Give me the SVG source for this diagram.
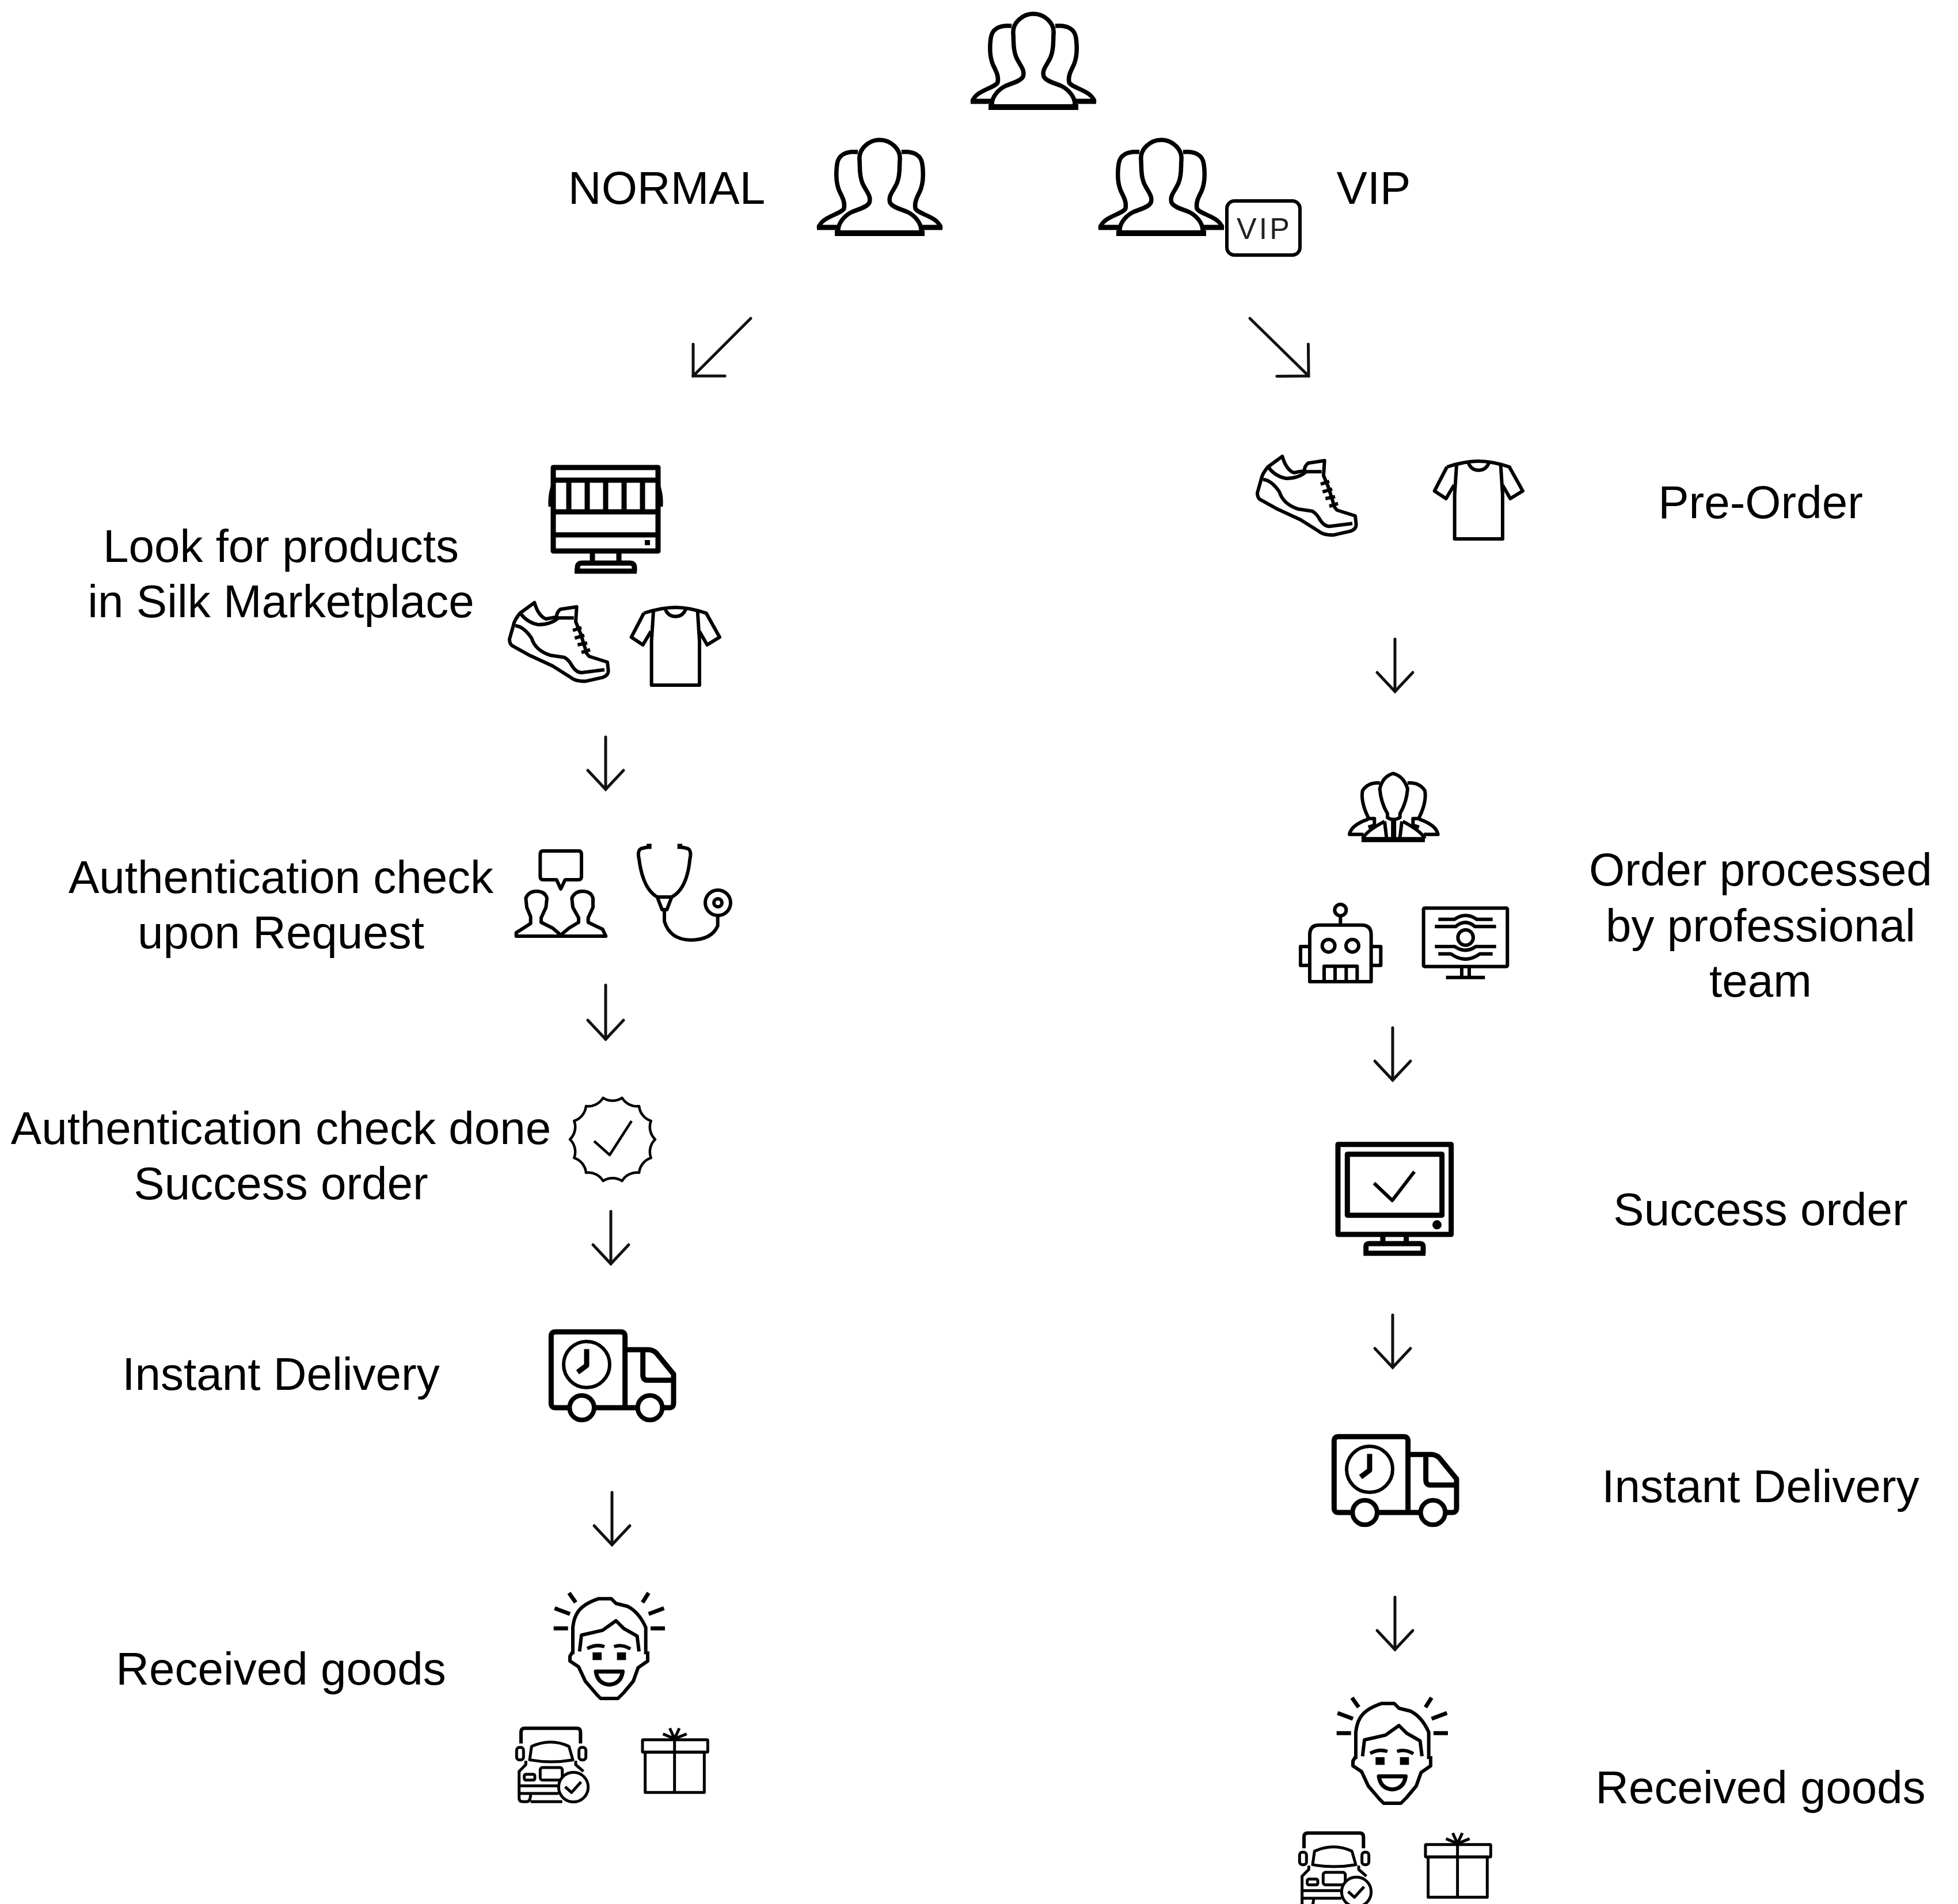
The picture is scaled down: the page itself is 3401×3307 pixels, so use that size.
<svg xmlns="http://www.w3.org/2000/svg" xmlns:xlink="http://www.w3.org/1999/xlink" width="3401" height="3307" viewBox="0 0 3401 3307">
<style>
text{font-family:"Liberation Sans",Arial,sans-serif;font-size:80px;fill:#000;text-anchor:middle}
.vip{font-size:52px;letter-spacing:4px;fill:#222}
.i *{fill:none;stroke:#000;stroke-width:6;stroke-linejoin:round;stroke-linecap:butt;vector-effect:non-scaling-stroke}
.i .t{stroke-width:9}
.i .n{stroke-width:4.500}
.i .w{fill:#fff}
.i .f{fill:#000;stroke:none}
.i .p{stroke-width:7.500}
.c line,.c path{fill:none;stroke:#111;stroke-width:5;stroke-linecap:round}
</style>
<defs>
<marker id="ah" markerUnits="userSpaceOnUse" markerWidth="90" markerHeight="90" viewBox="-45 -45 90 90" refX="0" refY="0" orient="auto"><path d="M-33,-31L0,0L-33,31" fill="none" stroke="#111" stroke-width="5" stroke-linecap="round" stroke-linejoin="miter"/></marker>
<marker id="ad" markerUnits="userSpaceOnUse" markerWidth="110" markerHeight="110" viewBox="-55 -55 110 110" refX="0" refY="0" orient="auto"><path d="M-39,-39L0,0L-39,39" fill="none" stroke="#111" stroke-width="5" stroke-linecap="round"/></marker>
<g id="people" class="i">
<path class="w p" d="M72,24C50,22 38,30 36,45C34,60 34,78 40,92C46,104 50,112 48,122C44,132 8,136 4,156"/>
<path class="w p" d="M148,24C170,22 182,30 184,45C186,60 186,78 180,92C174,104 170,112 172,122C176,132 212,136 216,156"/>
<path class="t" d="M1,155H38M182,155H219"/>
<path class="w p" d="M38,160C38,146 50,134 62,128C74,123 88,120 92,112C96,100 86,92 80,78C74,64 76,50 75,38C73,18 92,3 110,3C128,3 147,18 145,38C144,50 146,64 140,78C134,92 124,100 128,112C132,120 146,123 158,128C170,134 182,146 182,160"/>
<path class="t" style="stroke-width:10" d="M32,165H188"/>
</g>
<g id="shoe" class="i" transform="translate(860,780) scale(.33333)">
<path d="M205,800L130,855Q100,890 95,920L75,990Q75,1015 90,1025L180,1075L300,1130L395,1190Q415,1210 470,1210L560,1190Q590,1180 590,1155L585,1110L490,1080Q470,1060 470,1040L445,960L420,900L425,822L340,835Q320,850 320,875L265,885Q225,870 205,800Z"/>
<path d="M135,860Q170,905 225,915Q290,915 330,880L410,880"/>
<path d="M105,920Q150,925 190,985Q210,1050 290,1075L360,1085Q385,1100 395,1120Q420,1165 450,1165L570,1150"/>
<path d="M405,945L450,930M415,985L465,970M430,1020L480,1010M450,1060L495,1045"/>
</g>
<g id="shirt" class="i" transform="translate(860,780) scale(.33333)">
<path d="M825,845L815,1000V1230H1065V1000L1055,845"/>
<path d="M775,855Q870,825 940,825T1100,855L1170,980L1105,1020L1065,950M775,855L710,980L770,1020L812,950"/>
<path d="M885,830Q900,872 940,872T995,830"/>
</g>
<g id="truck" class="i" transform="translate(920,2280) scale(.33333)">
<path class="t" d="M200,495H135Q112,495 112,472V123Q112,100 135,100H474Q497,100 497,123V495"/>
<path class="t" d="M340,495H565M690,495H727Q750,495 750,472V320L660,210Q640,193 620,193H497"/>
<path class="t" d="M590,193V325Q590,352 615,352H750"/>
<circle cx="297" cy="270" r="120"/>
<path class="t" d="M297,190V275L250,310"/>
<circle class="w" cx="272" cy="495" r="64" style="stroke-width:8"/>
<circle class="w" cx="627" cy="495" r="64" style="stroke-width:8"/>
</g>
<g id="face" class="i" transform="translate(870,2740) scale(.33333)">
<path style="stroke-width:7" d="M355,80L390,130M280,160L360,190M275,265H350M770,80L738,130M850,160L770,190M855,265H780"/>
<path d="M375,400V260Q380,215 395,190Q420,140 510,110H575L600,135L660,150Q720,180 755,260V400"/>
<path d="M375,385L360,410V435L405,465L440,540L500,610L520,630H610L640,600L690,540L715,470L765,435V385"/>
<path d="M410,385L420,300L530,275L600,225L640,265L710,305L720,385"/>
<path d="M450,370Q495,345 540,360M590,360Q630,345 675,372"/>
<rect class="f" x="478" y="390" width="47" height="40"/>
<rect class="f" x="605" y="390" width="47" height="40"/>
<path style="stroke-width:7" d="M495,490H635Q625,555 565,558Q505,555 495,490Z"/>
</g>
<g id="car" class="i" transform="translate(870,2740) scale(.33333)">
<path d="M105,865V805Q105,785 125,785H395Q415,785 415,805V865"/>
<path style="stroke-width:5" d="M150,950L160,880Q260,835 355,880L375,950Q260,970 150,950Z"/>
<rect style="stroke-width:5" x="82" y="885" width="36" height="65" rx="15"/>
<rect style="stroke-width:5" x="407" y="885" width="36" height="65" rx="15"/>
<path style="stroke-width:5" d="M130,955V975L95,1010V1150Q95,1168 115,1168H135Q155,1168 155,1125M390,955V975L430,1010"/>
<rect style="stroke-width:5" x="122" y="1025" width="55" height="30" rx="8"/>
<rect style="stroke-width:5" x="205" y="990" width="115" height="65" rx="12"/>
<path style="stroke-width:5" d="M95,1085H300M95,1125H300M155,1168H320"/>
<circle class="w" style="stroke-width:5" cx="378" cy="1092" r="77"/>
<path style="stroke-width:5" d="M335,1090L368,1120L418,1065"/>
</g>
<g id="gift" class="i" transform="translate(870,2740) scale(.33333)">
<rect style="stroke-width:5" x="738" y="845" width="340" height="65" rx="4"/>
<rect style="stroke-width:5" x="752" y="910" width="308" height="210"/>
<path style="stroke-width:5" d="M905,845V1120"/>
<path style="stroke-width:5" d="M905,840L845,815M905,840L880,785M905,840L930,785M905,840L968,815"/>
</g>
</defs>
<rect width="3401" height="3307" fill="#fff"/>

<g id="connectors" class="c">
<line x1="1304" y1="553" x2="1204" y2="653" marker-end="url(#ad)"/>
<line x1="2171" y1="553" x2="2273" y2="653" marker-end="url(#ad)"/>
<line x1="1052" y1="1280" x2="1052" y2="1371" marker-end="url(#ah)"/>
<line x1="1052" y1="1711" x2="1052" y2="1805" marker-end="url(#ah)"/>
<line x1="1061" y1="2104" x2="1061" y2="2195" marker-end="url(#ah)"/>
<line x1="1063" y1="2592" x2="1063" y2="2683" marker-end="url(#ah)"/>
<line x1="2423" y1="1110" x2="2423" y2="1201" marker-end="url(#ah)"/>
<line x1="2419" y1="1785" x2="2419" y2="1876" marker-end="url(#ah)"/>
<line x1="2419" y1="2284" x2="2419" y2="2375" marker-end="url(#ah)"/>
<line x1="2423" y1="2774" x2="2423" y2="2865" marker-end="url(#ah)"/>
</g>

<g id="customers"><use href="#people" transform="translate(1685,21)"/></g>
<g id="normal"><text x="1158" y="354">NORMAL</text><use href="#people" transform="translate(1418,240)"/></g>
<g id="vip">
<text x="2386" y="354">VIP</text><use href="#people" transform="translate(1907,240)"/>
<g class="i"><rect class="w" x="2131" y="349" width="127" height="94" rx="13"/></g>
<text class="vip" x="2196" y="415">VIP</text>
</g>

<g id="normal-look">
<text x="488" y="976">Look for products</text><text x="488" y="1072">in Silk Marketplace</text>
<g class="i">
<path class="t" d="M961,889V812H1143V889M961,889V957H1143V889M961,834H1143M961,889H1143M961,929H1143M988,834V889M1020,834V889M1052,834V889M1084,834V889M1116,834V889"/>
<path class="n" d="M961,838Q953,860 955,880M1143,838Q1151,860 1149,880"/>
<rect class="f" x="1120" y="938" width="9" height="9"/>
<path class="t" d="M1029,957V978M1075,957V978M1003,992V986Q1003,978 1011,978H1094Q1102,978 1102,986V992"/>
<path class="t" d="M998,992H1106"/>
</g>
<use href="#shoe"/><use href="#shirt"/>
</g>

<g id="normal-auth">
<text x="488" y="1551">Authentication check</text><text x="488" y="1647">upon Request</text>
<g class="i" transform="translate(880,1440) scale(.33333,.4)">
<path d="M190,95H375Q390,95 390,110V205Q390,220 375,220H305L282,260L260,220H190Q175,220 175,205V110Q175,95 190,95Z"/>
<path d="M50,465V450L125,410V380L105,340L100,300Q115,270 155,270Q200,270 210,300L205,340L180,385V405L240,430L282,460L325,430L375,405V385L345,340L340,300Q355,270 395,270Q440,270 450,300L450,340L425,385V405L500,435L517,465Z"/>
<path d="M750,75L700,85Q680,95 690,130Q710,260 785,295H860Q940,260 955,130Q965,95 945,85L895,75"/>
<path d="M785,295L810,350H835L860,295"/>
<path d="M822,350V400Q850,480 960,482Q1070,480 1100,420V375"/>
<path class="t" d="M730,75H755M890,75H915"/>
</g>
<circle class="i" cx="1247" cy="1568" r="22" style="fill:none;stroke:#000;stroke-width:6"/>
<circle cx="1247" cy="1568" r="7" fill="none" stroke="#000" stroke-width="6"/>
</g>

<g id="normal-done">
<text x="488" y="1987">Authentication check done</text><text x="488" y="2083">Success order</text>
<g class="i" transform="translate(1064,1979)">
<path class="n" d="M74,0A30,30 0 0 0 66.700,32.100A30,30 0 0 0 46.100,57.800A30,30 0 0 0 16.500,72.100A30,30 0 0 0 -16.500,72.100A30,30 0 0 0 -46.100,57.800A30,30 0 0 0 -66.700,32.100A30,30 0 0 0 -74,0A30,30 0 0 0 -66.700,-32.100A30,30 0 0 0 -46.100,-57.800A30,30 0 0 0 -16.500,-72.100A30,30 0 0 0 16.500,-72.100A30,30 0 0 0 46.100,-57.800A30,30 0 0 0 66.700,-32.100A30,30 0 0 0 74,0Z"/>
<path class="n" d="M-32,3L-5,27L33,-32"/>
</g>
</g>

<g id="normal-delivery"><text x="488" y="2414">Instant Delivery</text><use href="#truck"/></g>
<g id="normal-received"><text x="488" y="2926">Received goods</text><use href="#face"/><use href="#car"/><use href="#gift"/></g>

<g id="vip-preorder"><text x="3058" y="900">Pre-Order</text>
<use href="#shoe" transform="translate(1299,-254)"/><use href="#shirt" transform="translate(1395,-254)"/></g>

<g id="vip-processed">
<text x="3058" y="1538">Order processed</text><text x="3058" y="1635">by professional</text><text x="3058" y="1731">team</text>
<g class="i" transform="translate(2160,1320) scale(.33333)">
<path d="M750,280Q715,220 710,150Q725,85 780,70Q835,85 855,150Q850,220 815,280V300Q780,320 750,300Z"/>
<path d="M620,410Q640,370 735,320M945,410Q925,370 830,320M735,320L745,405M825,320L815,405"/>
<path class="t" d="M782,315V405"/>
<path class="t" d="M615,415H945"/>
<path d="M710,120Q650,115 620,160Q610,220 650,300L645,310Q560,340 552,388H625M855,120Q915,115 945,160Q955,220 915,300L920,310Q1005,340 1013,388H940"/>
<path d="M650,305L682,305V340L650,350M915,305L883,305V340L915,350"/>
<path style="stroke-width:6" d="M345,1155V910Q345,860 395,860H615Q665,860 665,910V1155Z"/>
<circle cx="505" cy="782" r="30"/>
<path d="M505,815V860"/>
<circle cx="443" cy="968" r="33"/><circle cx="567" cy="968" r="33"/>
<path d="M345,972H297V1070H345M665,972H715V1070H665"/>
<path d="M420,1155V1075H592V1155M477,1075V1155M535,1075V1155"/>
<rect x="938" y="772" width="437" height="304" rx="6"/>
<path d="M1137,1076V1133M1176,1076V1133M1055,1133H1258"/>
<path d="M1015,830H1100Q1157,790 1215,830H1298M997,868H1105Q1157,825 1205,868H1316M997,972H1100Q1157,1010 1210,972H1316M1015,1010H1080Q1157,1065 1232,1010H1298"/>
<circle cx="1157" cy="925" r="40"/>
</g>
</g>

<g id="vip-success">
<text x="3058" y="2128">Success order</text>
<g class="i" transform="translate(2280,1960) scale(.33333)">
<rect class="t" x="132" y="83" width="590" height="469"/>
<rect class="t" x="181" y="134" width="493" height="318"/>
<path class="n" style="stroke-width:6" d="M320,285L415,375L530,225"/>
<circle class="f" cx="648" cy="502" r="24"/>
<path class="t" d="M366,552V600M488,552V600"/>
<path class="t" d="M278,650V615Q278,600 293,600H561Q576,600 576,615V650M265,650H588"/>
</g>
</g>

<g id="vip-delivery"><text x="3058" y="2609">Instant Delivery</text><use href="#truck" transform="translate(1360,182)"/></g>
<g id="vip-received"><text x="3058" y="3132">Received goods</text>
<use href="#face" transform="translate(1360,182)"/><use href="#car" transform="translate(1360,182)"/><use href="#gift" transform="translate(1360,182)"/></g>
</svg>
